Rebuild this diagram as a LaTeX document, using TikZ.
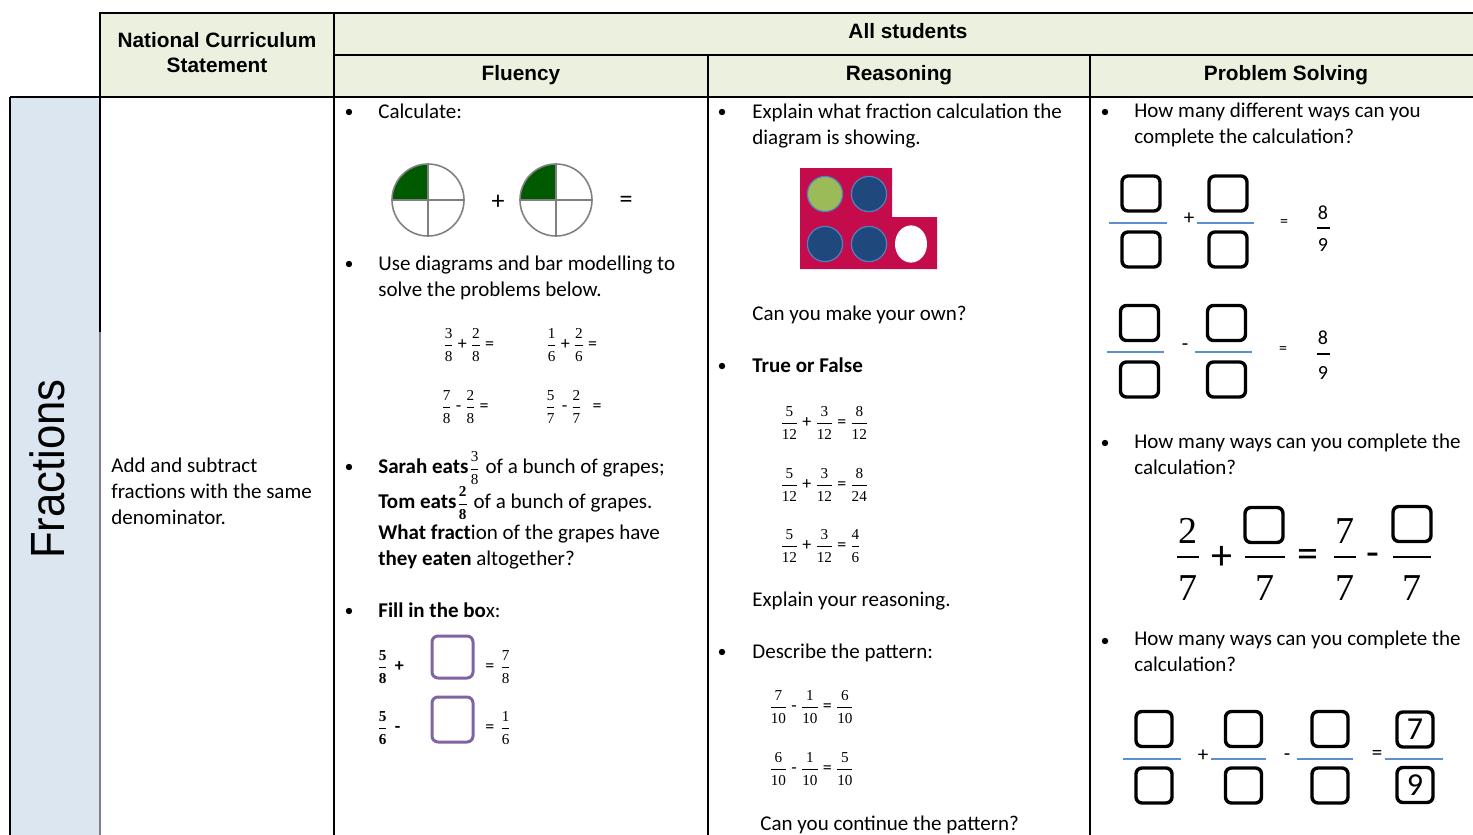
\documentclass[tikz,border=0pt]{standalone}
\usepackage{fontspec}
\usepackage{amsmath}
\setmainfont{Carlito}
\newfontfamily\arialf{Liberation Sans}
\newfontfamily\numf{Liberation Serif}
\definecolor{hdgreen}{HTML}{EBF1DE}
\definecolor{sideblue}{HTML}{DCE6F1}
\definecolor{piegreen}{HTML}{005A00}
\definecolor{framered}{HTML}{C40C4C}
\definecolor{ctrblue}{HTML}{1F497D}
\definecolor{ctrgreen}{HTML}{9BBB59}
\definecolor{ctredge}{HTML}{4F81BD}
\definecolor{boxpurple}{HTML}{8064A2}
\definecolor{barblue}{HTML}{5B8FD0}
\newcommand\fr[2]{{\fontsize{7.6}{8}\selectfont$\genfrac{}{}{0.5pt}{0}{\mbox{\numf#1}}{\mbox{\numf#2}}$}}
\tikzset{
  grid line/.style={line width=1pt},
  head/.style={font=\arialf\bfseries\fontsize{10.4}{12.5}\selectfont, align=center, inner sep=0pt},
  body/.style={anchor=base west, inner sep=0pt, align=left, font=\fontsize{10.5}{13}\selectfont},
  blt/.style={circle, fill, inner sep=0pt, minimum size=3.2pt},
  sums/.style={anchor=west, inner sep=0pt, font=\fontsize{9}{10}\selectfont},
  blank/.style={draw, rounded corners=3pt, line width=1.7pt, minimum width=19pt, minimum height=17.5pt, inner sep=0pt},
  fillbox/.style={draw=boxpurple, rounded corners=3pt, line width=1.5pt, minimum width=20.5pt, minimum height=21pt},
  op/.style={inner sep=0pt, font=\fontsize{10.5}{12}\selectfont},
  digit/.style={inner sep=0pt, font=\fontsize{10}{12}\selectfont},
  big/.style={inner sep=0pt, font=\numf\fontsize{19}{22}\selectfont},
  bar/.style={draw=barblue, line width=0.7pt},
}
\begin{document}
\begin{tikzpicture}[x=0.5pt, y=-0.5pt]
\useasboundingbox (0,0) rectangle (1473,835);
% table
\fill[hdgreen] (100,13) rectangle (1473,97);
\fill[sideblue] (10,97) rectangle (100,835);
\draw[grid line] (1473,13) -- (100,13) -- (100,332);
\draw[grid line] (334,55) -- (1473,55) (10,97) -- (1473,97);
\draw[grid line] (10,97) -- (10,835) (334,13) -- (334,835);
\draw[grid line] (708,55) -- (708,835) (1090,55) -- (1090,835);
\draw[grid line, gray] (100,332) -- (100,835);

% headings
\node[head] (nc) at (217,53) {National Curriculum\\Statement};
\node[head] (all) at (908,31) {All students};
\foreach \x/\t [count=\i] in {521/Fluency, 899/Reasoning, 1286/Problem Solving}
  \node[head] (hd\i) at (\x,75) {\t};
\node[rotate=90, inner sep=0pt, font=\arialf\fontsize{24}{28}\selectfont] (topic) at (47,469) {\scalebox{0.91}[1]{Fractions}};
\node[body] (stmt) at (111,524) {Add and subtract\\fractions with the same\\denominator.};

% bullets
\foreach \x/\y [count=\i] in {349/112, 349/264, 349/467, 349/611, 722/112, 722/366, 722/652, 1105/112, 1105/443, 1105/641}
  \node[blt] (b\i) at (\x,\y) {};

% fluency
\node[body] (calc) at (378,118) {Calculate:};
\foreach \cx in {428,556} {
  \fill[piegreen] (\cx,200) -- ++(-18pt,0) arc[start angle=180, end angle=90, radius=18pt] -- cycle;
  \draw[gray, line width=0.8pt] (\cx,200) circle[radius=18pt] (\cx,164) -- (\cx,236) (\cx-36,200) -- (\cx+36,200);
}
\node[op, font=\fontsize{13}{14}\selectfont] (pl) at (498,202) {+};
\node[op, font=\fontsize{13}{14}\selectfont] (eq) at (626,202) {=};
\node[body] (use) at (378,296) {Use diagrams and bar modelling to\\solve the problems below.};
\node[sums] (s1) at (442,345) {\fr{3}{8}\,+\,\fr{2}{8}\,=};
\node[sums] (s2) at (545,345) {\fr{1}{6}\,+\,\fr{2}{6}\,=};
\node[sums] (s3) at (440,407) {\fr{7}{8}\,-\,\fr{2}{8}\,=};
\node[sums] (s4) at (544,407) {\fr{5}{7}\;-\,\fr{2}{7}\;\;=};
\node[body] (sarah) at (378,473) {\textbf{Sarah eats}\fr{3}{8} of a bunch of grapes;};
\node[body] (tom) at (378,508) {\textbf{Tom eats\fr{2}{8}} of a bunch of grapes.};
\node[body] (what) at (378,539) {\textbf{What fract}ion of the grapes have};
\node[body] (they) at (378,565) {\textbf{they eaten} altogether?};
\node[body] (fill) at (378,617) {\textbf{Fill in the bo}x:};
\node[sums] (r1a) at (376,667) {\bfseries\fr{5}{8}\,\,+};
\node[fillbox] (fb1) at (452.5,657) {};
\node[sums] (r1b) at (485,667) {=\;\fr{7}{8}};
\node[sums] (r2a) at (376,728) {\bfseries\fr{5}{6}\,\,-};
\node[fillbox, minimum height=22.5pt] (fb2) at (452.5,719.5) {};
\node[sums] (r2b) at (485,728) {=\;\fr{1}{6}};

% reasoning
\node[body] (expl) at (752,144) {Explain what fraction calculation the\\diagram is showing.};
\fill[framered] (800,168) -- (892,168) -- (892,217) -- (937,217) -- (937,269) -- (800,269) -- cycle;
\foreach \x/\y/\c in {825/194/ctrgreen, 869/194/ctrblue, 825/244/ctrblue, 869/244/ctrblue}
  \draw[ctredge, fill=\c, line width=0.6pt] (\x,\y) circle[radius=8.8pt];
\fill[white] (911,244) ellipse[x radius=8pt, y radius=9.3pt];
\node[body] (own) at (752,320) {Can you make your own?};
\node[body] (tf) at (752,372) {\textbf{True or False}};
\foreach \y/\a/\b in {423/8/12, 485/8/24, 546/4/6}
  \node[sums] (tf\y) at (779,\y) {\fr{5}{12}\,+\,\fr{3}{12}\,=\,\fr{\a}{\b}};
\node[body] (why) at (752,606) {Explain your reasoning.};
\node[body] (pat) at (752,658) {Describe the pattern:};
\foreach \y/\a/\b in {707/7/6, 769/6/5}
  \node[sums] (pt\y) at (768,\y) {\fr{\a}{10}\,-\,\fr{1}{10}\,=\,\fr{\b}{10}};
\node[body] (cont) at (760,830) {Can you continue the pattern?};

% problem solving
\node[body] (ps1) at (1134,143) {How many different ways can you\\complete the calculation?};
\node[blank] (n1a) at (1141,193.5) {};
\node[blank] (d1a) at (1141,249.5) {};
\node[blank] (n1b) at (1228,193.5) {};
\node[blank] (d1b) at (1228,249.5) {};
\draw[bar] (1109,223) -- (1167,223) (1197,223) -- (1254,223);
\node[op] (o1) at (1189,219) {+};
\node[op, font=\fontsize{8}{9}\selectfont] (e1) at (1284,223) {=};
\node[digit] (f1n) at (1323,213) {8};
\draw[line width=1pt] (1317,228) -- (1330,228);
\node[digit] (f1d) at (1323,245) {9};

\node[blank] (n2a) at (1139.5,323) {};
\node[blank] (d2a) at (1139.5,379.5) {};
\node[blank] (n2b) at (1226.5,323) {};
\node[blank] (d2b) at (1226.5,379.5) {};
\draw[bar] (1107,352) -- (1164,352) (1195,352) -- (1252,352);
\node[op] (o2) at (1185,347) {-};
\node[op, font=\fontsize{8}{9}\selectfont] (e2) at (1283,350) {=};
\node[digit] (f2n) at (1323,338) {8};
\draw[line width=1pt] (1317,354) -- (1330,354);
\node[digit] (f2d) at (1323,373) {9};

\node[body] (ps2) at (1134,474) {How many ways can you complete the\\calculation?};
\node[big] (g1n) at (1188,531) {2};
\node[big] (g1d) at (1188,588) {7};
\node[blank] (g2n) at (1264,525) {};
\node[big] (g2d) at (1265,588) {7};
\node[big] (g3n) at (1345,531) {7};
\node[big] (g3d) at (1345,588) {7};
\node[blank] (g4n) at (1412,524) {};
\node[big] (g4d) at (1412,588) {7};
\draw[line width=1.4pt] (1177,557) -- (1199,557) (1245,557) -- (1285,557)
  (1334,557) -- (1356,557) (1393,557) -- (1431,557);
\node[op, font=\fontsize{21}{22}\selectfont] (gp) at (1222,558) {+};
\node[op, font=\fontsize{21}{22}\selectfont] (ge) at (1308,558) {=};
\node[op, font=\fontsize{21}{22}\selectfont] (gm) at (1373,560) {-};

\node[body] (ps3) at (1134,671) {How many ways can you complete the\\calculation?};
\foreach \x [count=\i] in {1154,1243.5,1330} {
  \node[blank, minimum width=18pt] (n3\i) at (\x,729) {};
  \node[blank, minimum width=18pt] (d3\i) at (\x,785.5) {};
}
\node[blank, minimum width=18pt, font=\fontsize{16}{18}\selectfont] (n34) at (1415,729.5) {7};
\node[blank, minimum width=18pt, font=\fontsize{16}{18}\selectfont] (d34) at (1415,785) {9};
\draw[bar] (1123,759) -- (1181,759) (1211,759) -- (1266,759)
  (1297,759) -- (1353,759) (1385,759) -- (1443,759);
\node[op] (o3) at (1203,756) {+};
\node[op] (o4) at (1287,757) {-};
\node[op] (o5) at (1377,755) {=};
\end{tikzpicture}
\end{document}
